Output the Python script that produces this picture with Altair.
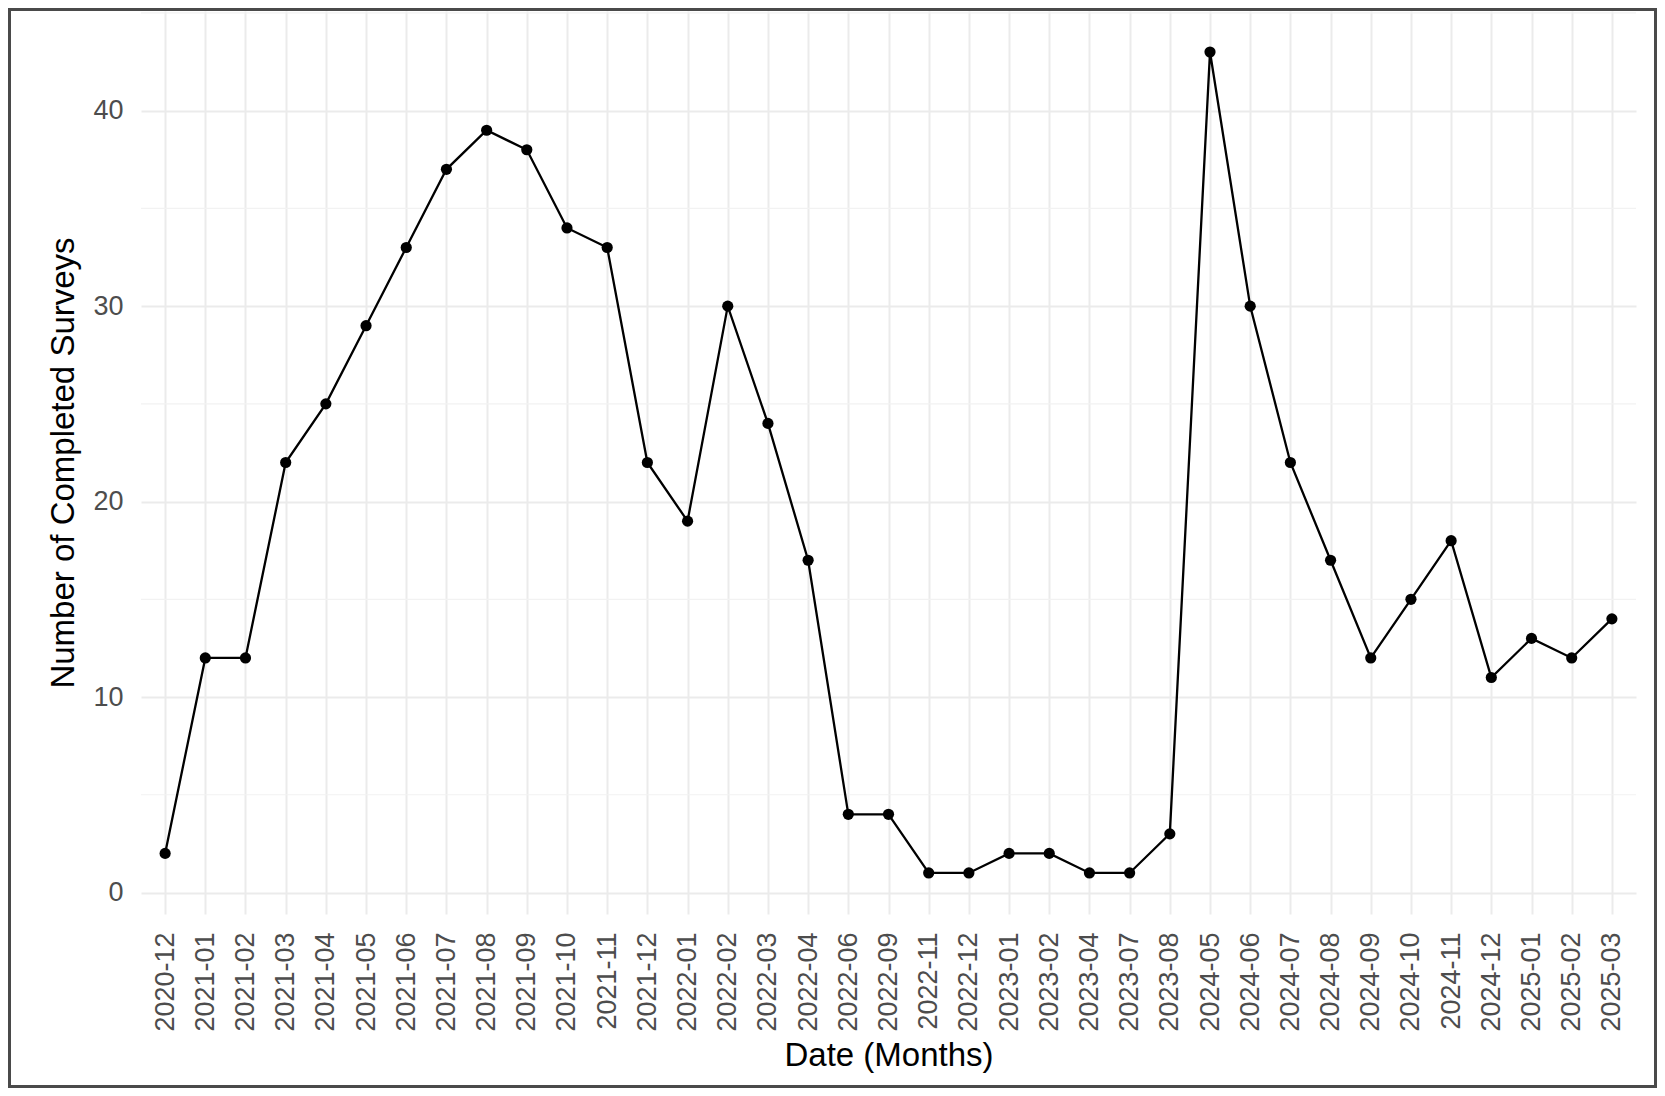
import pandas as pd
import altair as alt


months = ['2020-12', '2021-01', '2021-02', '2021-03', '2021-04', '2021-05', '2021-06',
          '2021-07', '2021-08', '2021-09', '2021-10', '2021-11', '2021-12', '2022-01',
          '2022-02', '2022-03', '2022-04', '2022-06', '2022-09', '2022-11', '2022-12',
          '2023-01', '2023-02', '2023-04', '2023-07', '2023-08', '2024-05', '2024-06',
          '2024-07', '2024-08', '2024-09', '2024-10', '2024-11', '2024-12', '2025-01',
          '2025-02', '2025-03']
surveys = [2, 12, 12, 22, 25, 29, 33, 37, 39, 38, 34, 33, 22, 19, 30, 24, 17, 4, 4, 1,
           1, 2, 2, 1, 1, 3, 43, 30, 22, 17, 12, 15, 18, 11, 13, 12, 14]
major_ticks = [0, 10, 20, 30, 40]
minor_ticks = [5, 15, 25, 35, 45]

df = pd.DataFrame({'month': months, 'count': surveys})
minor_df = pd.DataFrame({'v': minor_ticks})

W, H = 1495, 903
PAD_L, PAD_T, PAD_R, PAD_B = 133, 3, 21, 174

x_enc = alt.X('month:N',
              sort=months,
              title='Date (Months)',
              scale=alt.Scale(type='point', padding=0.6),
              axis=alt.Axis(labelAngle=-90, labelFontSize=27, labelColor='#4D4D4D',
                            labelPadding=18, titleFontSize=33, titleColor='black',
                            titleFontWeight='normal', titlePadding=8,
                            grid=True, gridColor='#EBEBEB', gridWidth=2,
                            ticks=False, domain=False))
y_scale = alt.Scale(domain=[-1.1, 45.1], nice=False, zero=False)
y_enc = alt.Y('count:Q',
              title='Number of Completed Surveys',
              scale=y_scale,
              axis=alt.Axis(values=major_ticks, labelFontSize=27, labelColor='#4D4D4D',
                            labelPadding=18, titleFontSize=33, titleColor='black',
                            titleFontWeight='normal', titlePadding=12,
                            grid=True, gridColor='#EBEBEB', gridWidth=2,
                            ticks=False, domain=False))

# minor y gridlines (theme_minimal look)
minor = alt.Chart(minor_df).mark_rule(color='#F2F2F2', strokeWidth=1.2).encode(
    y=alt.Y('v:Q', scale=y_scale)
)

line = alt.Chart(df).mark_line(color='black', strokeWidth=2.3).encode(x=x_enc, y=y_enc)
points = alt.Chart(df).mark_circle(color='black', size=125, opacity=1).encode(
    x=alt.X('month:N', sort=months),
    y='count:Q'
)

# frame round the whole picture
frame = alt.Chart(pd.DataFrame({'a': [0]})).mark_rect(
    filled=False, stroke='#4A4A4A', strokeWidth=3
).encode(
    x=alt.value(-PAD_L + 1.5), x2=alt.value(W + PAD_R - 1.5),
    y=alt.value(-PAD_T + 1.5), y2=alt.value(H + PAD_B - 1.5)
)

chart = alt.layer(minor, line, points, frame).properties(
    width=W,
    height=H,
    autosize=alt.AutoSizeParams(type='none'),
    padding={'left': PAD_L, 'top': PAD_T, 'right': PAD_R, 'bottom': PAD_B}
).configure(
    font='Liberation Sans'
).configure_view(
    stroke=None
)

chart.save("out.html", embed_options={"renderer": "svg", "actions": False})
